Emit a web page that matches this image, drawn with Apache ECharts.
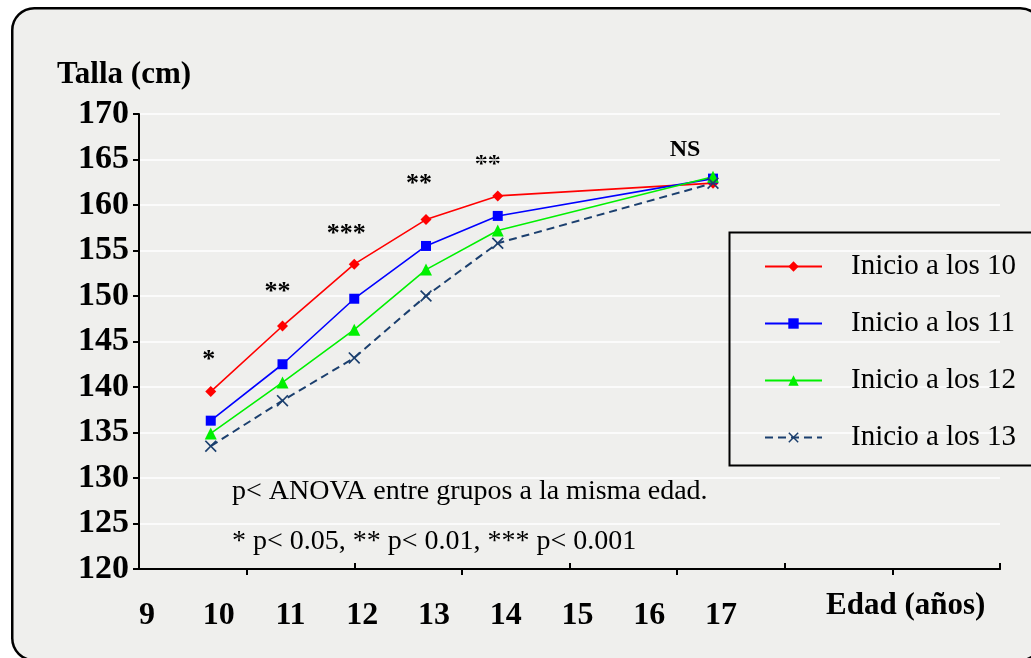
<!DOCTYPE html>
<html>
<head>
<meta charset="utf-8">
<script src="https://cdn.jsdelivr.net/npm/echarts@6/dist/echarts.min.js"></script>
<style>
html,body{margin:0;padding:0;background:#ffffff;}
#chart{width:1031px;height:658px;}
</style>
</head>
<body>
<div id="chart"></div>
<script>
// ---- data ----
const ages = [10, 11, 12, 13, 14, 17];
const seriesNames = ['Inicio a los 10', 'Inicio a los 11', 'Inicio a los 12', 'Inicio a los 13'];
const inicio10 = [139.5, 146.7, 153.5, 158.4, 161.0, 162.4];
const inicio11 = [136.3, 142.5, 149.7, 155.5, 158.8, 162.9];
const inicio12 = [134.9, 140.5, 146.3, 152.9, 157.2, 163.1];
const inicio13 = [133.5, 138.5, 143.2, 150.0, 155.8, 162.4];
const xTickLabels = [9, 10, 11, 12, 13, 14, 15, 16, 17];
const signif = ['*', '**', '***', '**', '**', 'NS'];

const serif = '"Liberation Serif","DejaVu Serif",serif';
const xShape = 'path://M0,1 L1,0 L5,4 L9,0 L10,1 L6,5 L10,9 L9,10 L5,6 L1,10 L0,9 L4,5 Z';

function pairs(vals){ return ages.map((a,i)=>[a, vals[i]]); }

const chart = echarts.init(document.getElementById('chart'));

const baseX = {
  type: 'value', min: 9, max: 21, position: 'bottom',
  splitLine: {show: false},
  axisLine: {show: true, lineStyle: {color: '#000', width: 2}},
};

const option = {
  backgroundColor: '#ffffff',
  animation: false,
  grid: {left: 139, right: 31, top: 114, bottom: 89, containLabel: false},
  xAxis: [
    Object.assign({}, baseX, {
      interval: 1,
      axisTick: {show: true, inside: true, length: 6, customValues: [12, 15, 18, 21], lineStyle: {color: '#000', width: 2}},
      axisLabel: {show: true, customValues: xTickLabels, fontFamily: serif, fontWeight: 'bold', fontSize: 32, color: '#000', margin: 31, padding: [0, 0, 0, 16]}
    }),
    Object.assign({}, baseX, {
      interval: 1.5,
      axisTick: {show: true, inside: false, length: 6, customValues: [10.5, 13.5, 16.5, 19.5], lineStyle: {color: '#000', width: 2}},
      axisLabel: {show: false}
    })
  ],
  yAxis: {
    type: 'value', min: 120, max: 170, interval: 5,
    axisLine: {show: true, lineStyle: {color: '#000', width: 2}},
    axisTick: {show: true, inside: false, length: 6, lineStyle: {color: '#000', width: 2}},
    axisLabel: {fontFamily: serif, fontWeight: 'bold', fontSize: 34, color: '#000', margin: 10},
    splitLine: {show: true, lineStyle: {color: '#ffffff', width: 1.5}}
  },
  legend: {
    orient: 'vertical', left: 759, top: 247, itemWidth: 57, itemHeight: 13, itemGap: 28,
    data: seriesNames,
    textStyle: {fontFamily: serif, fontSize: 29, color: '#000', padding: [0, 0, 0, 24]},
    inactiveColor: '#999'
  },
  graphic: [
    {type: 'rect', z: -10, left: 11, top: 7, shape: {width: 1030, height: 652, r: 22},
     style: {fill: '#efefed', stroke: '#000', lineWidth: 2.5}},
    {type: 'rect', z: 10, left: 727, top: 230, shape: {width: 320, height: 233},
     style: {fill: 'none', stroke: '#000', lineWidth: 2}},
    {type: 'text', left: 57, top: 59, style: {text: 'Talla (cm)', font: 'bold 31px ' + serif, fill: '#000'}},
    {type: 'text', left: 826, top: 590, style: {text: 'Edad (años)', font: 'bold 31px ' + serif, fill: '#000'}},
    {type: 'text', left: 232, top: 478, style: {text: 'p< ANOVA entre grupos a la misma edad.', font: '28px ' + serif, fill: '#000'}},
    {type: 'text', left: 232, top: 528, style: {text: '* p< 0.05, ** p< 0.01, *** p< 0.001', font: '28px ' + serif, fill: '#000'}}
  ],
  series: [
    {name: seriesNames[0], type: 'line', data: pairs(inicio10), symbol: 'diamond', symbolSize: 11,
     lineStyle: {color: '#ff0000', width: 1.6}, itemStyle: {color: '#ff0000'}},
    {name: seriesNames[1], type: 'line', data: pairs(inicio11), symbol: 'rect', symbolSize: 10,
     lineStyle: {color: '#0000ff', width: 1.6}, itemStyle: {color: '#0000ff'}},
    {name: seriesNames[2], type: 'line', data: pairs(inicio12), symbol: 'triangle', symbolSize: 12,
     lineStyle: {color: '#00f000', width: 1.6}, itemStyle: {color: '#00f000'}},
    {name: seriesNames[3], type: 'line', data: pairs(inicio13), symbol: xShape, symbolSize: 12,
     lineStyle: {color: '#1b3f6e', width: 2, type: [8, 5]}, itemStyle: {color: '#1b3f6e'}}
  ]
};
chart.setOption(option);

// significance markers placed above each age, using the chart's own scale
const offsets = [-2, -5, -8, -7, -10, -28];
const yShift = [18, 21, 17, 22, 18, 15];
const g = option.graphic.slice();
ages.forEach((a, i) => {
  const top = Math.max(inicio10[i], inicio11[i], inicio12[i], inicio13[i]);
  const p = chart.convertToPixel({xAxisIndex: 0, yAxisIndex: 0}, [a, top]);
  const isNS = signif[i] === 'NS';
  g.push({type: 'text', x: p[0] + offsets[i], y: p[1] - yShift[i],
    style: {text: signif[i], font: 'bold ' + (isNS ? 24 : 26) + 'px ' + serif, fill: '#000', align: 'center', verticalAlign: 'bottom'}});
});
chart.setOption({graphic: g});
</script>
</body>
</html>
